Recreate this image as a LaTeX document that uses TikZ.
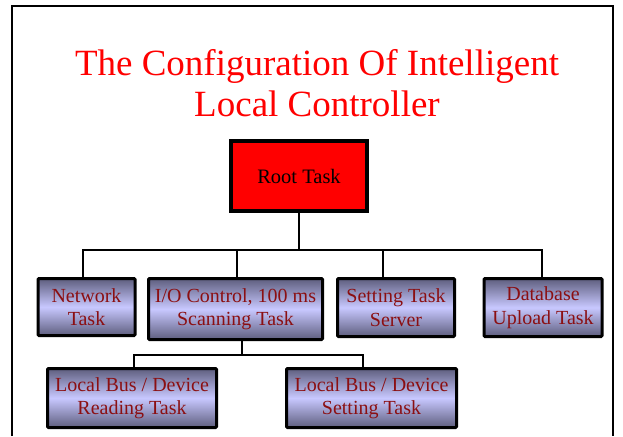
\documentclass[tikz,border=0pt]{standalone}
\usepackage{fontspec}
\setmainfont{Liberation Serif}
\begin{document}
\begin{tikzpicture}[x=1pt,y=-1pt,
  taskbox/.style={draw=black, line width=3pt, rounded corners=1pt,
    top color=boxdark, bottom color=boxdark, middle color=boxlight,
    text=txtred, font=\fontsize{20}{23.5}\selectfont, align=center, inner sep=0pt},
  link/.style={line width=2.8pt, line cap=rect}]
\definecolor{boxdark}{HTML}{5E5E7E}
\definecolor{boxlight}{HTML}{C8C8FF}
\definecolor{txtred}{HTML}{8B0F12}
\useasboundingbox (0,0) rectangle (623,436);
\fill[white] (0,0) rectangle (623,436);
\draw[line width=2.6pt] (12,436) -- (12,6) -- (613,6) -- (613,436);
\node[text=red, align=center, font=\fontsize{37}{41}\selectfont] (title) at (317,83)
  {The Configuration Of Intelligent\\Local Controller};
\node[draw=black, line width=3.5pt, fill=red, minimum width=136, minimum height=70,
  font=\fontsize{20.5}{24}\selectfont] (root) at (299,176) {Root Task};
\node[taskbox, minimum width=97, minimum height=57] (net) at (86.5,307) {Network\\Task};
\node[taskbox, minimum width=174, minimum height=61] (io) at (235.5,309) {I/O Control, 100 ms\\Scanning Task};
\node[taskbox, minimum width=117, minimum height=58] (set) at (396,307.5) {Setting Task\\Server};
\node[taskbox, minimum width=118, minimum height=58] (db) at (543,307.5) {Database\\Upload Task};
\node[taskbox, minimum width=169, minimum height=59] (rd) at (132,398) {Local Bus / Device\\Reading Task};
\node[taskbox, minimum width=170, minimum height=59] (sd) at (371.5,398) {Local Bus / Device\\Setting Task};
\coordinate (bus) at (299,250);
\coordinate (bus2) at (242,355);
\draw[link] (root.south) -- (bus);
\draw[link] ([xshift=-3.5]net.north) -- ([xshift=-3.5]net.north |- bus) -| ([xshift=-1]db.north);
\draw[link] ([xshift=1.5]io.north) -- ([xshift=1.5]io.north |- bus);
\draw[link] ([xshift=-13]set.north) -- ([xshift=-13]set.north |- bus);
\draw[link] ([xshift=6.5]io.south) -- (bus2);
\draw[link] ([xshift=2]rd.north) -- ([xshift=2]rd.north |- bus2) -| ([xshift=-8.5]sd.north);
\end{tikzpicture}
\end{document}
